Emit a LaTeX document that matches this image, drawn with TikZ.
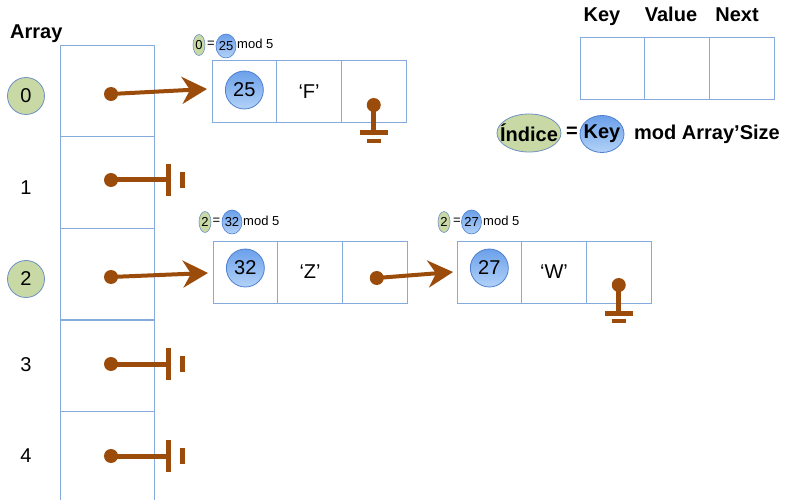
\documentclass[tikz,border=0pt]{standalone}
\usepackage{fontspec}
\setmainfont{Liberation Sans}
\usetikzlibrary{arrows.meta,shapes.geometric}
\definecolor{boxblue}{RGB}{132,170,222}
\definecolor{brn}{RGB}{156,76,10}
\definecolor{idxgreen}{RGB}{200,217,165}
\definecolor{idxline}{RGB}{110,145,195}
\definecolor{balltop}{RGB}{108,160,234}
\definecolor{ballbot}{RGB}{178,210,248}
\definecolor{ballline}{RGB}{78,128,208}
\newcommand\FontBig{\fontsize{20}{24}\selectfont}
\newcommand\FontBigBold{\fontsize{20}{24}\selectfont\bfseries}
\newcommand\FontSmall{\fontsize{13}{15}\selectfont}
\begin{document}
\begin{tikzpicture}[x=1pt,y=-1pt,
  cellbox/.style={draw=boxblue,line width=1pt,minimum width=94pt,minimum height=91pt,inner sep=0,outer sep=0,anchor=north west},
  rec/.style={draw=boxblue,line width=1pt,minimum width=64.7pt,minimum height=62pt,inner sep=0,outer sep=0,anchor=north west,font=\FontBig},
  ball/.style={circle,minimum size=38pt,inner sep=0,draw=ballline,line width=0.8pt,top color=balltop,bottom color=ballbot,font=\FontBig},
  idx/.style={circle,minimum size=37pt,inner sep=0,draw=idxline,line width=0.8pt,fill=idxgreen,font=\FontBig},
  lbl/.style={inner sep=0,font=\FontBig},
  hdr/.style={inner sep=0,font=\FontBigBold,anchor=base},
  dot/.style={circle,fill=brn,inner sep=0,minimum size=14pt},
  ptr/.style={draw=brn,line width=4pt,-{Stealth[length=25pt,width=27pt,inset=8pt]}},
  nul/.style={draw=brn,line width=5pt},
  sidx/.style={ellipse,draw=idxline,fill=idxgreen,line width=0.6pt,inner xsep=-5pt,inner ysep=0,minimum width=12pt,minimum height=21pt,font=\FontSmall},
  skey/.style={ellipse,draw=ballline,line width=0.6pt,top color=balltop,bottom color=ballbot,inner xsep=-5pt,inner ysep=0,minimum width=20pt,minimum height=24pt,font=\FontSmall},
  sfont/.style={inner sep=0,font=\FontSmall},
  bidx/.style={ellipse,draw=idxline,fill=idxgreen,line width=0.8pt,inner xsep=-10pt,inner ysep=0,minimum width=64pt,minimum height=38pt,font=\FontBigBold},
  bkey/.style={ellipse,draw=ballline,line width=0.8pt,top color=balltop,bottom color=ballbot,inner xsep=-10pt,inner ysep=0,minimum width=44pt,minimum height=37pt,font=\FontBigBold},
  bfont/.style={inner sep=0,font=\FontBigBold}]
\path[use as bounding box,fill=white] (0,0) rectangle (785,500);

% array
\node[cellbox] (a0) at (60,46) {};
\node[cellbox] (a1) at (60,137) {};
\node[cellbox] (a2) at (60,228) {};
\node[cellbox] (a3) at (60,320) {};
\node[cellbox,draw=none,minimum height=89pt] (a4) at (60,411) {};
\draw[draw=boxblue,line width=1pt] (a4.south west) -- (a4.north west) -- (a4.north east) -- (a4.south east);
\node[lbl,anchor=base west] (arr) at (10,39) {\bfseries Array};

% indices
\node[idx] (i0) at (26,96) {0};
\node[lbl] (l1) at (26,188) {1};
\node[idx] (i2) at (26,279) {2};
\node[lbl] (l3) at (26,365) {3};
\node[lbl] (l4) at (26,456) {4};

% header record
\node[rec] (hk) at (580,38) {};
\node[rec] (hv) at (hk.north east) {};
\node[rec] (hn) at (hv.north east) {};
\node[hdr] (tk) at (602,22) {Key};
\node[hdr] (tv) at (671,22) {Value};
\node[hdr] (tn) at (737,22) {Next};

% big formula
\node[bidx] (fi) at (529,133) {Índice};
\node[bfont] (fe) at (572,132) {=};
\node[bkey] (fk) at (602,134) {Key};
\node[bfont,anchor=base west] (fm) at (634,140) {mod Array’Size};

% record row 0
\node[rec] (k0) at (212,61) {};
\node[rec] (v0) at (k0.north east) {‘F’};
\node[rec] (n0) at (v0.north east) {};
\node[ball] (b0) at ([yshift=2pt]k0.center) {25};
\node[sidx] (f0i) at (199,45) {0};
\node[sfont] (f0e) at (211,44) {=};
\node[skey] (f0k) at (226,46) {25};
\node[sfont,anchor=west] (f0m) at (237,44) {mod 5};

% record row 2
\node[rec] (k2) at (213,241) {};
\node[rec] (v2) at (k2.north east) {‘Z’};
\node[rec] (n2) at (v2.north east) {};
\node[ball] (b2) at ([yshift=4pt]k2.center) {32};
\node[sidx] (f2i) at (205,222) {2};
\node[sfont] (f2e) at (216.5,221) {=};
\node[skey] (f2k) at (232,222) {32};
\node[sfont,anchor=west] (f2m) at (243,221) {mod 5};

\node[rec] (k3) at (457,241) {};
\node[rec] (v3) at (k3.north east) {‘W’};
\node[rec] (n3) at (v3.north east) {};
\node[ball] (b3) at ([yshift=4pt]k3.center) {27};
\node[sidx] (f3i) at (444,222) {2};
\node[sfont] (f3e) at (457,221) {=};
\node[skey] (f3k) at (471.5,222) {27};
\node[sfont,anchor=west] (f3m) at (483,221) {mod 5};

% pointers
\node[dot] (d0) at (111,94) {};
\draw[ptr] (d0.center) -- ([xshift=-5pt,yshift=3pt]k0.west);
\node[dot] (d2) at (111,277) {};
\draw[ptr] (d2.center) -- ([xshift=-5pt,yshift=-1pt]k2.west);
\node[dot] (d2n) at ([xshift=2pt,yshift=-6pt]n2.center) {};
\draw[ptr] (d2n.center) -- ([xshift=-4pt]k3.west);

% null pointers (horizontal)
\foreach \r/\yy in {1/180,3/364,4/456}{
  \node[dot] (d\r) at (111,\yy) {};
  \draw[nul] (d\r.center) -- ++(57,0) coordinate (g\r);
  \draw[nul] ([yshift=16pt]g\r) -- ([yshift=-16pt]g\r);
  \draw[nul] ([xshift=14.5pt,yshift=8pt]g\r) -- ([xshift=14.5pt,yshift=-8pt]g\r);
}

% null pointers (ground)
\foreach \c in {n0,n3}{
  \node[dot] (z\c) at ([yshift=-13pt]\c.center) {};
  \draw[nul] (z\c.center) -- ++(0,28) coordinate (gg\c);
  \draw[nul] ([xshift=-14pt]gg\c) -- ([xshift=14pt]gg\c);
  \draw[nul,line width=4pt] ([xshift=-7pt,yshift=-8pt]gg\c) -- ([xshift=7pt,yshift=-8pt]gg\c);
}
\end{tikzpicture}
\end{document}
